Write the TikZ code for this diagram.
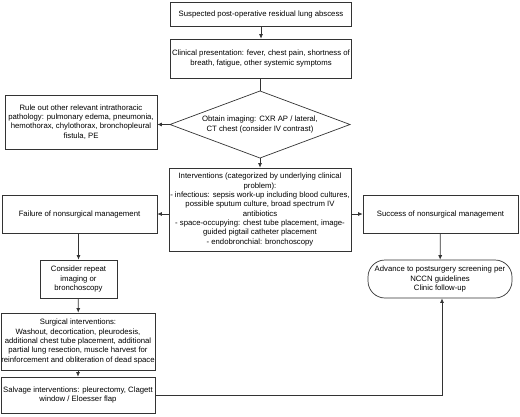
\documentclass[tikz,border=0pt]{standalone}
\usepackage{fontspec}
\setmainfont{Liberation Sans}
\usetikzlibrary{arrows.meta}
\tikzset{
  box/.style={draw=black!80, line width=0.7pt, align=center, inner sep=0pt, text=black,
    font=\fontsize{7.75}{9.3}\selectfont},
  txt/.style={align=center, inner sep=0pt, text=black, font=\fontsize{7.75}{9.3}\selectfont},
  term/.style={box, rounded corners=17pt},
  conn/.style={draw=black!80, line width=0.7pt},
  arr/.style={conn, -{Latex[length=4.5pt,width=4pt]}}
}
\begin{document}
\begin{tikzpicture}[x=1pt,y=-1pt]
\useasboundingbox (0,0) rectangle (520,416);
\node[box, minimum width=181pt, minimum height=24pt] (b1) at (261,14) {Suspected post-operative residual lung abscess};
\node[box, minimum width=181pt, minimum height=39pt] (b2) at (261,58.5) {Clinical presentation: fever, chest pain, shortness of\\breath, fatigue, other systemic symptoms};
\coordinate (dN) at (260,91);
\coordinate (dS) at (260,158);
\coordinate (dW) at (170,124.5);
\coordinate (dE) at (350,124.5);
\draw[conn] (dW) -- (dN) -- (dE) -- (dS) -- cycle;
\node[txt] (d) at (260,124.5) {Obtain imaging: CXR AP / lateral,\\CT chest (consider IV contrast)};
\node[box, minimum width=152pt, minimum height=54pt] (r) at (81,122) {Rule out other relevant intrathoracic\\pathology: pulmonary edema, pneumonia,\\hemothorax, chylothorax, bronchopleural\\fistula, PE};
\node[box, minimum width=182pt, minimum height=83pt] (iv) at (260,209.5) {Interventions (categorized by underlying clinical\\problem):\\- infectious: sepsis work-up including blood cultures,\\possible sputum culture, broad spectrum IV\\antibiotics\\- space-occupying: chest tube placement, image-\\guided pigtail catheter placement\\- endobronchial: bronchoscopy};
\node[box, minimum width=155pt, minimum height=38pt] (f) at (79.5,214) {Failure of nonsurgical management};
\node[box, minimum width=155pt, minimum height=38pt] (s) at (440.5,214) {Success of nonsurgical management};
\node[box, minimum width=77pt, minimum height=38pt] (c) at (78.5,279) {Consider repeat\\imaging or\\bronchoscopy};
\node[term, minimum width=144pt, minimum height=38pt] (t) at (440,279) {Advance to postsurgery screening per\\NCCN guidelines\\Clinic follow-up};
\node[box, minimum width=154pt, minimum height=57pt] (sg) at (78,341.5) {Surgical interventions:\\Washout, decortication, pleurodesis,\\additional chest tube placement, additional\\partial lung resection, muscle harvest for\\reinforcement and obliteration of dead space};
\node[box, minimum width=154pt, minimum height=36pt] (sv) at (78,395) {Salvage interventions: pleurectomy, Clagett\\window / Eloesser flap};
\coordinate (k) at (442,395);
\draw[arr] (b1) -- (b2);
\draw[conn] (b2.south -| dN) -- (dN);
\draw[arr] (dS) -- (dS |- iv.north);
\draw[arr] (dW) -- (dW -| r.east);
\draw[arr] (iv.west |- f.east) -- (f.east);
\draw[arr] (iv.east |- s.west) -- (s.west);
\draw[arr] (f.south -| c.north) -- (c.north);
\draw[arr] (c) -- (sg);
\draw[arr] (sg) -- (sv);
\draw[arr] (s) -- (t);
\draw[arr] (sv.east) -- (k) -- (k |- t.south);
\end{tikzpicture}
\end{document}
